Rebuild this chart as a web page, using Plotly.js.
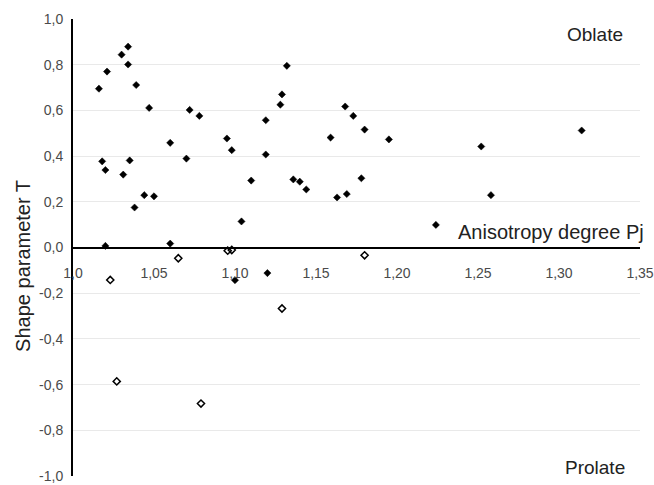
<!DOCTYPE html>
<html>
<head>
<meta charset="utf-8">
<script src="https://cdn.plot.ly/plotly-3.0.1.min.js"></script>
<style>html,body{margin:0;padding:0;background:#fff;}#chart{width:654px;height:485px;}</style>
</head>
<body>
<div id="chart"></div>
<script>
// Oblate-side / general points (filled diamonds)
const pjFilled = [1.016,1.021,1.030,1.034,1.034,1.039,1.047,1.072,1.078,1.060,1.018,1.020,1.031,1.035,1.070,1.044,1.050,1.038,1.020,1.060,1.132,1.129,1.128,1.119,1.095,1.098,1.119,1.110,1.136,1.140,1.144,1.104,1.159,1.168,1.173,1.180,1.195,1.178,1.163,1.169,1.224,1.314,1.252,1.258,1.100,1.120];
const tFilled  = [0.695,0.770,0.844,0.879,0.801,0.711,0.611,0.602,0.576,0.458,0.377,0.339,0.319,0.381,0.389,0.229,0.224,0.175,0.007,0.017,0.795,0.670,0.625,0.557,0.477,0.426,0.407,0.293,0.298,0.288,0.254,0.114,0.481,0.617,0.576,0.516,0.473,0.303,0.219,0.234,0.099,0.512,0.442,0.229,-0.143,-0.112];
// Open diamonds
const pjOpen = [1.023,1.065,1.0955,1.098,1.129,1.027,1.079,1.180];
const tOpen  = [-0.142,-0.047,-0.014,-0.011,-0.267,-0.586,-0.683,-0.034];

const xTickVals = [1.0,1.05,1.10,1.15,1.20,1.25,1.30,1.35];
const xTickText = ["1,0","1,05","1,10","1,15","1,20","1,25","1,30","1,35"];
const yTickVals = [-1,-0.8,-0.6,-0.4,-0.2,0,0.2,0.4,0.6,0.8,1];
const yTickText = ["-1,0","-0,8","-0,6","-0,4","-0,2","0,0","0,2","0,4","0,6","0,8","1,0"];

const FONT = "Liberation Sans, Arial, sans-serif";

const traces = [
  {x: pjFilled, y: tFilled, type: 'scatter', mode: 'markers',
   marker: {symbol: 'diamond', size: 5.5, color: '#000', line: {width: 0.5, color: '#000'}},
   hoverinfo: 'x+y'},
  {x: pjOpen, y: tOpen, type: 'scatter', mode: 'markers',
   marker: {symbol: 'diamond-open', size: 5.5, color: '#000', line: {width: 1.5, color: '#000'}},
   hoverinfo: 'x+y'}
];

const layout = {
  width: 654, height: 485,
  margin: {l: 73, r: 14, t: 19, b: 9, pad: 0},
  paper_bgcolor: '#ffffff', plot_bgcolor: '#ffffff',
  showlegend: false,
  font: {family: FONT, size: 14, color: '#444'},
  xaxis: {
    range: [1.0, 1.35], anchor: 'free', position: 0.5,
    tickmode: 'array', tickvals: xTickVals, ticktext: xTickText,
    showgrid: false, zeroline: false, showline: false, ticks: '',
    ticklabelstandoff: 15,
    tickfont: {family: FONT, size: 14, color: '#4a4a4a'}
  },
  yaxis: {
    range: [-1, 1],
    tickmode: 'array', tickvals: yTickVals, ticktext: yTickText,
    showgrid: true, gridcolor: '#e9e9e9', gridwidth: 1,
    zeroline: true, zerolinecolor: '#000', zerolinewidth: 2,
    showline: true, linecolor: '#000', linewidth: 2, ticks: '',
    ticklabelstandoff: 5, ticklabeloverflow: 'allow',
    tickfont: {family: FONT, size: 14, color: '#4a4a4a'}
  },
  annotations: [
    {text: 'Anisotropy degree Pj', xref: 'paper', yref: 'y', x: 1.01, y: 0, xanchor: 'right', yanchor: 'bottom', yshift: 3, showarrow: false, font: {family: FONT, size: 20, color: '#222'}},
    {text: 'Oblate', xref: 'x', yref: 'paper', x: 1.3225, y: 0.967, xanchor: 'center', yanchor: 'middle', showarrow: false, font: {family: FONT, size: 19, color: '#222'}},
    {text: 'Prolate', xref: 'x', yref: 'paper', x: 1.3225, y: 0.018, xanchor: 'center', yanchor: 'middle', showarrow: false, font: {family: FONT, size: 19, color: '#222'}},
    {text: 'Shape parameter T', xref: 'paper', yref: 'paper', x: -0.088, y: 0.46, xanchor: 'center', yanchor: 'middle', textangle: -90, showarrow: false, font: {family: FONT, size: 20, color: '#222'}}
  ]
};

Plotly.newPlot('chart', traces, layout, {displayModeBar: false, staticPlot: true});
</script>
</body>
</html>
